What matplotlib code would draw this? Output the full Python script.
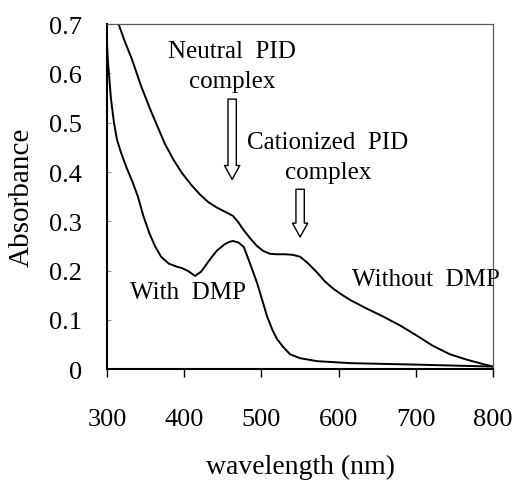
import matplotlib
matplotlib.use("Agg")
import matplotlib.pyplot as plt

# ---- data ----
wl_without = [300, 308, 315, 323, 332, 344, 356, 366, 375, 386, 397, 409, 420, 431,
              442, 452, 463, 470, 476, 485, 494, 502, 511, 520, 530, 540, 550, 560,
              572, 582, 593, 604, 615, 636, 657, 680, 701, 722, 744, 766, 787, 800]
abs_without = [0.82, 0.75, 0.70, 0.665, 0.63, 0.575, 0.527, 0.49, 0.457, 0.425, 0.398,
               0.374, 0.355, 0.339, 0.328, 0.320, 0.311, 0.298, 0.284, 0.266, 0.250,
               0.240, 0.234, 0.233, 0.233, 0.232, 0.228, 0.215, 0.196, 0.178, 0.163,
               0.151, 0.140, 0.123, 0.107, 0.088, 0.068, 0.047, 0.030, 0.019, 0.010, 0.005]

wl_with = [300, 301, 303, 305, 309, 313, 318, 325, 333, 340, 347, 355, 362, 370, 380,
           390, 397, 405, 414, 422, 433, 442, 452, 458, 463, 470, 477, 485, 494, 500,
           507, 514, 520, 528, 537, 550, 572, 615, 700, 800]
abs_with = [0.66, 0.63, 0.59, 0.55, 0.50, 0.465, 0.44, 0.41, 0.38, 0.35, 0.311, 0.275,
            0.250, 0.228, 0.214, 0.208, 0.205, 0.199, 0.189, 0.198, 0.222, 0.240, 0.253,
            0.258, 0.260, 0.257, 0.248, 0.215, 0.176, 0.145, 0.108, 0.080, 0.061, 0.045,
            0.030, 0.022, 0.016, 0.012, 0.009, 0.005]

x_ticks = [300, 400, 500, 600, 700, 800]
y_ticks = [0, 0.1, 0.2, 0.3, 0.4, 0.5, 0.6, 0.7]
y_tick_labels = ["0", "0.1", "0.2", "0.3", "0.4", "0.5", "0.6", "0.7"]

plt.rcParams['font.family'] = ['Liberation Serif', 'DejaVu Serif']

fig = plt.figure(figsize=(5.17, 4.85), dpi=100)
ax = fig.add_axes([0.207, 0.237, 0.747, 0.711])

ax.plot(wl_without, abs_without, color='black', lw=1.4, clip_on=True)
ax.plot(wl_with, abs_with, color='black', lw=1.4, clip_on=True)

ax.set_xlim(300, 800)
ax.set_ylim(0, 0.7)
ax.set_xticks(x_ticks)
ax.set_yticks(y_ticks)
ax.set_yticklabels(y_tick_labels)

ax.tick_params(axis='x', direction='out', length=6, width=1, pad=22, labelsize=19)
ax.tick_params(axis='y', direction='in', length=3, width=0.6, color='0.5', pad=18, labelsize=19)

for s in ['left', 'bottom']:
    ax.spines[s].set_linewidth(1.5)
    ax.spines[s].set_color('black')
for s in ['top', 'right']:
    ax.spines[s].set_linewidth(0.9)
    ax.spines[s].set_color('0.35')

ax.set_xlabel('wavelength (nm)', fontsize=20, labelpad=17)
ax.set_ylabel('Absorbance', fontsize=21, labelpad=10)

# annotations
ax.text(462, 0.645, 'Neutral  PID', ha='center', va='center', fontsize=18)
ax.text(462, 0.585, 'complex', ha='center', va='center', fontsize=18)
ax.text(586, 0.460, 'Cationized  PID', ha='center', va='center', fontsize=18)
ax.text(586, 0.401, 'complex', ha='center', va='center', fontsize=18)
ax.text(330, 0.156, 'With  DMP', ha='left', va='center', fontsize=18)
ax.text(617, 0.183, 'Without  DMP', ha='left', va='center', fontsize=18)

arrow_style = dict(arrowstyle='simple,head_width=1.1,head_length=1.0,tail_width=0.6',
                   fc='white', ec='black', lw=1.0, shrinkA=0, shrinkB=0)
ax.annotate('', xy=(462, 0.385), xytext=(462, 0.548), arrowprops=arrow_style)
ax.annotate('', xy=(550, 0.268), xytext=(550, 0.365), arrowprops=arrow_style)

fig.savefig('out.png', dpi=100)
